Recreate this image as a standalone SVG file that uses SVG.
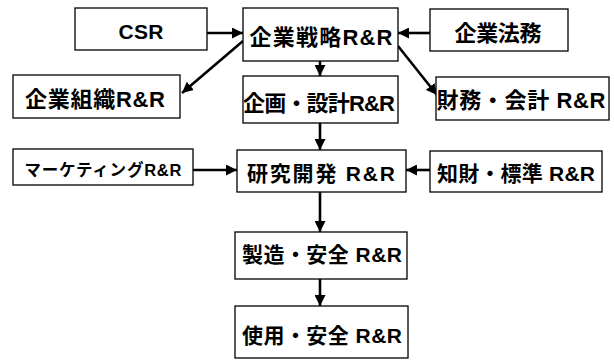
<svg xmlns="http://www.w3.org/2000/svg" width="614" height="362" viewBox="0 0 614 362">
<style>
.box{fill:#fff;stroke:#000;stroke-width:1.3}
.t{font-family:"Liberation Sans","Noto Sans CJK JP",sans-serif;font-weight:bold;fill:#000;text-anchor:middle}
.c{stroke:#000;stroke-width:2.6;fill:none;marker-end:url(#ah)}
</style>
<defs>
<marker id="ah" viewBox="0 0 10 10" refX="10" refY="5" markerWidth="11" markerHeight="11" markerUnits="userSpaceOnUse" orient="auto">
<path d="M0,0 L10,5 L0,10 z" fill="#000"/>
</marker>
</defs>
<rect width="614" height="362" fill="#fff"/>
<g id="connectors">
<line class="c" x1="207" y1="33" x2="243" y2="33"/>
<line class="c" x1="430" y1="33" x2="398" y2="33"/>
<line class="c" x1="243" y1="41" x2="182" y2="93"/>
<line class="c" x1="398" y1="46" x2="437" y2="95"/>
<line class="c" x1="320" y1="61" x2="320" y2="76"/>
<line class="c" x1="320" y1="123" x2="320" y2="150"/>
<line class="c" x1="193" y1="170" x2="237" y2="170"/>
<line class="c" x1="430" y1="170" x2="406" y2="170"/>
<line class="c" x1="320" y1="192" x2="320" y2="232"/>
<line class="c" x1="320" y1="279" x2="320" y2="306"/>
</g>
<g id="csr"><rect class="box" x="75" y="8" width="132" height="42"/><text class="t" x="141" y="39" font-size="21" textLength="45">CSR</text></g>
<g id="strategy"><rect class="box" x="243" y="8" width="155" height="53"/><text class="t" x="321" y="45" font-size="22" textLength="143">企業戦略R&amp;R</text></g>
<g id="legal"><rect class="box" x="430" y="9" width="138" height="42"/><text class="t" x="498" y="41" font-size="22" textLength="87">企業法務</text></g>
<g id="organization"><rect class="box" x="13" y="75" width="167" height="43"/><text class="t" x="95" y="107" font-size="22" textLength="140">企業組織R&amp;R</text></g>
<g id="planning"><rect class="box" x="243" y="76" width="155" height="47"/><text class="t" x="319" y="111" font-size="22" textLength="152">企画・設計R&amp;R</text></g>
<g id="finance"><rect class="box" x="436" y="77" width="173" height="43"/><text class="t" x="521" y="108" font-size="22" textLength="169">財務・会計 R&amp;R</text></g>
<g id="marketing"><rect class="box" x="13" y="149" width="180" height="36"/><text class="t" x="103" y="176" font-size="16.5" textLength="157">マーケティングR&amp;R</text></g>
<g id="rnd"><rect class="box" x="237" y="150" width="169" height="42"/><text class="t" x="321" y="181" font-size="21" textLength="148">研究開発 R&amp;R</text></g>
<g id="ip"><rect class="box" x="430" y="151" width="172" height="41"/><text class="t" x="516" y="181" font-size="21" textLength="158">知財・標準 R&amp;R</text></g>
<g id="manufacturing"><rect class="box" x="235" y="232" width="172" height="47"/><text class="t" x="322" y="262" font-size="21" textLength="160">製造・安全 R&amp;R</text></g>
<g id="usage"><rect class="box" x="235" y="306" width="173" height="52"/><text class="t" x="322" y="343" font-size="21" textLength="160">使用・安全 R&amp;R</text></g>
</svg>
